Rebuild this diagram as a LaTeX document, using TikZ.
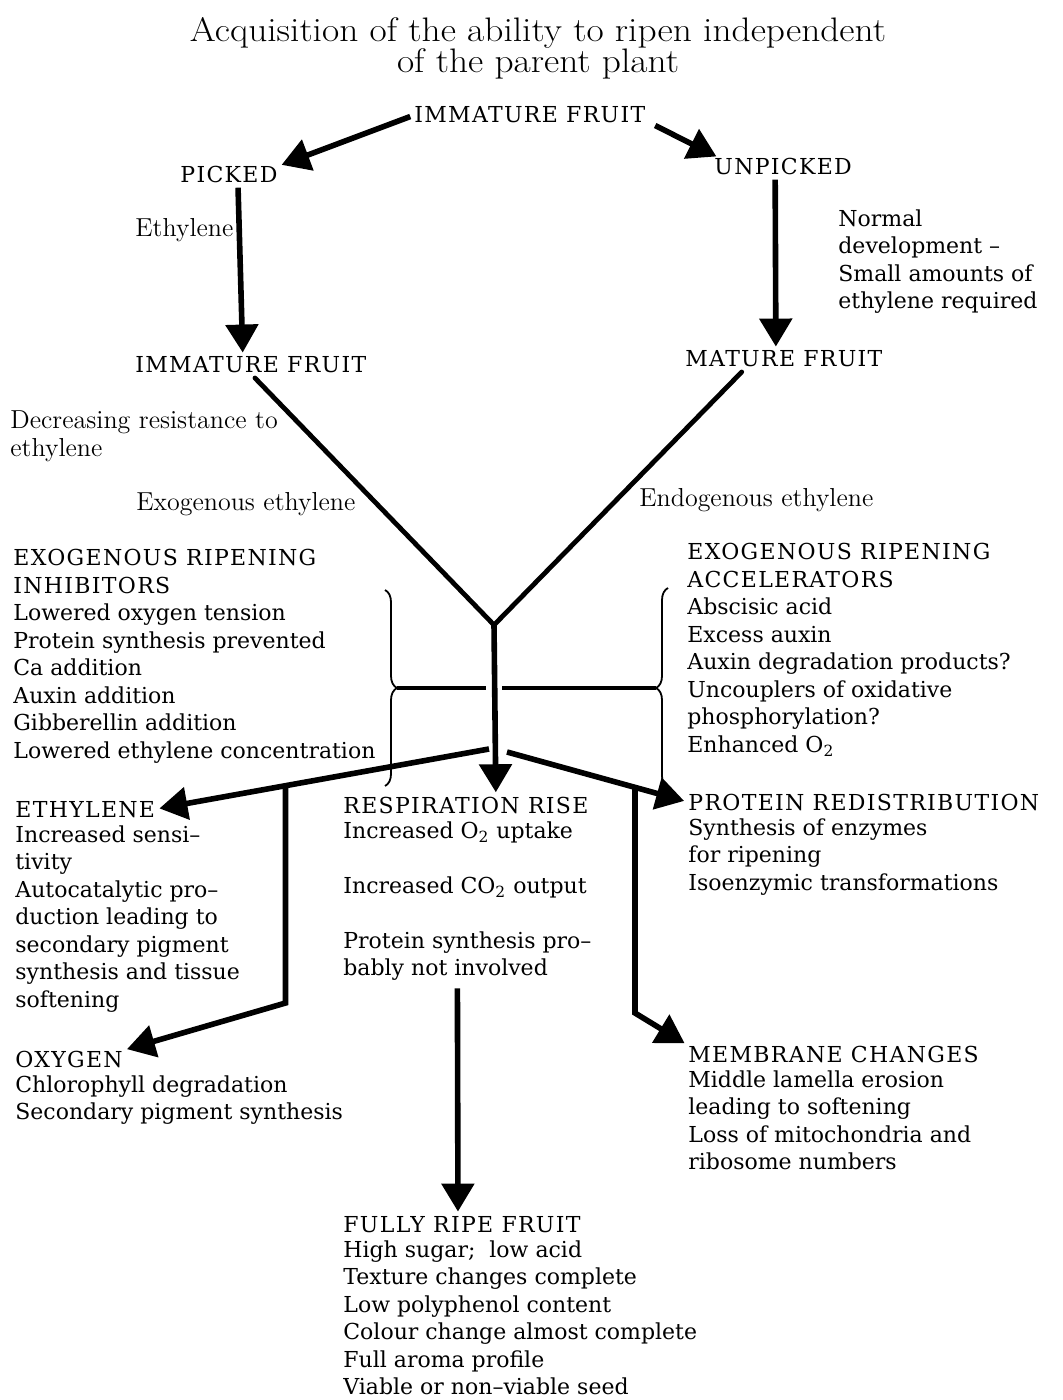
\documentclass[tikz,border=0pt]{standalone}
\usepackage{fontspec}
\newfontfamily\blockfont{DejaVu Serif}
\newfontfamily\capsfont[LetterSpace=6]{DejaVu Serif}
\usetikzlibrary{arrows.meta,calc,decorations.pathreplacing}

\begin{document}
\begin{tikzpicture}[x=0.5pt, y=-0.5pt,
    headline/.style={anchor=north, inner sep=0pt, align=center, xscale=1.1, font=\fontsize{17}{15.5}\selectfont},
    stage/.style={anchor=base west, inner sep=0pt, font=\capsfont\fontsize{11}{13.75}\selectfont},
    notes/.style={anchor=north west, inner sep=0pt, align=left, font=\blockfont\fontsize{11}{13.75}\selectfont, execute at begin node=\strut},
    cue/.style={anchor=north west, inner sep=0pt, align=left, font=\fontsize{13}{14}\selectfont, execute at begin node=\strut},
    flowarrow/.style={line width=2.8pt, -{Triangle[length=14pt,width=16pt]}, shorten <=2pt, shorten >=2pt},
    vline/.style={line width=2.4pt, line cap=round, shorten <=3pt},
    bar/.style={line width=2pt},
    clamp/.style={decorate, decoration={brace, amplitude=6pt}, line width=0.9pt}
]
    \useasboundingbox (0,0) rectangle (1062,1400);
    \fill[white] (0,0) rectangle (1062,1400);

    % Title
    \node[headline] (title) at (538,17.5) {Acquisition of the ability to ripen independent\\of the parent plant};

    % Upper stages
    \node[stage] (imm1) at (414,123) {IMMATURE FRUIT};
    \node[stage] (picked) at (180,183) {PICKED};
    \node[stage] (unpicked) at (714,175) {UNPICKED};
    \node[stage] (imm2) at (135,373) {IMMATURE FRUIT};
    \node[stage] (mature) at (685,367) {MATURE FRUIT};

    % Side labels
    \node[cue] (ethgas) at (135,217) {Ethylene};
    \node[notes] (normal) at (838,209) {Normal\\development –\\Small amounts of\\ethylene required};
    \node[cue] (decr) at (10,410) {Decreasing resistance to\\ethylene};
    \node[cue] (exo) at (136,490) {Exogenous ethylene};
    \node[cue] (endo) at (639,487) {Endogenous ethylene};

    % Inhibitors and accelerators
    \node[notes] (inhib) at (13,549) {{\capsfont EXOGENOUS RIPENING}\\{\capsfont INHIBITORS}\\Lowered oxygen tension\\Protein synthesis prevented\\Ca addition\\Auxin addition\\Gibberellin addition\\Lowered ethylene concentration};
    \node[notes] (accel) at (687,543) {{\capsfont EXOGENOUS RIPENING}\\{\capsfont ACCELERATORS}\\Abscisic acid\\Excess auxin\\Auxin degradation products?\\Uncouplers of oxidative\\phosphorylation?\\Enhanced O\textsubscript{2}};

    % Ripening events
    \node[stage] (eth) at (15,817) {ETHYLENE};
    \node[notes] (ethtxt) at (15,825) {Increased sensi–\\tivity\\Autocatalytic pro–\\duction leading to\\secondary pigment\\synthesis and tissue\\softening};
    \node[stage] (resp) at (343,813) {RESPIRATION RISE};
    \node[notes] (resptxt) at (343,821) {Increased O\textsubscript{2} uptake\\[13.75pt]Increased CO\textsubscript{2} output\\[13.75pt]Protein synthesis pro–\\bably not involved};
    \node[stage] (prot) at (688,810) {PROTEIN REDISTRIBUTION};
    \node[notes] (prottxt) at (688,818) {Synthesis of enzymes\\for ripening\\Isoenzymic transformations};
    \node[stage] (oxy) at (15,1067) {OXYGEN};
    \node[notes] (oxytxt) at (15,1075) {Chlorophyll degradation\\Secondary pigment synthesis};
    \node[stage] (memb) at (688,1062) {MEMBRANE CHANGES};
    \node[notes] (membtxt) at (688,1070) {Middle lamella erosion\\leading to softening\\Loss of mitochondria and\\ribosome numbers};
    \node[stage] (ripe) at (343,1232) {FULLY RIPE FRUIT};
    \node[notes] (ripetxt) at (343,1240) {High sugar;\ \ low acid\\Texture changes complete\\Low polyphenol content\\Colour change almost complete\\Full aroma profile\\Viable or non–viable seed};

    % Picked / unpicked
    \draw[flowarrow] (imm1.west) -- (picked.north east);
    \draw[flowarrow] ([xshift=3pt]imm1.south east) -- ([xshift=3pt]unpicked.north west);
    \draw[flowarrow] ([xshift=4.5pt]picked.south) -- ([xshift=-4pt]imm2.north);
    \draw[flowarrow] ([xshift=-4pt]unpicked.south) -- ([xshift=-4pt]mature.north);

    % Both routes meet
    \coordinate (junc) at (494,625);
    \draw[vline] (imm2.south) -- (junc);
    \draw[vline] ([xshift=-19pt]mature.south) -- (junc);
    \draw[flowarrow, shorten <=0pt] (junc) -- ([xshift=15pt]resp.north);

    % Braces and cross bar
    \draw[clamp] (385,590) -- (385,786);
    \draw[clamp] (668,788) -- (668,588);
    \coordinate (ltip) at (397,688);
    \coordinate (rtip) at (656,688);
    \draw[bar, shorten >=4pt] (ltip) -- (ltip -| junc);
    \draw[bar, shorten >=4pt] (rtip) -- (rtip -| junc);

    % Left branch
    \coordinate (lsplit) at (489,749);
    \draw[flowarrow, shorten <=0pt] (lsplit) -- (eth.east);
    \path (lsplit) -- (eth.east) coordinate[pos=0.61] (lfork);
    \draw[flowarrow, shorten <=0pt] (lfork) -- (lfork |- 0,1003) -- (oxy.north east);

    % Right branch
    \coordinate (rsplit) at (507,752);
    \draw[flowarrow, shorten <=0pt] (rsplit) -- (prot.west);
    \path (rsplit) -- (prot.west) coordinate[pos=0.707] (rfork);
    \draw[flowarrow, shorten <=0pt] (rfork) -- (rfork |- 0,1013) -- (memb.north west);

    % To ripe fruit
    \draw[flowarrow] ([xshift=-5pt]resptxt.south) -- ([xshift=-2pt]ripe.north);
\end{tikzpicture}
\end{document}
